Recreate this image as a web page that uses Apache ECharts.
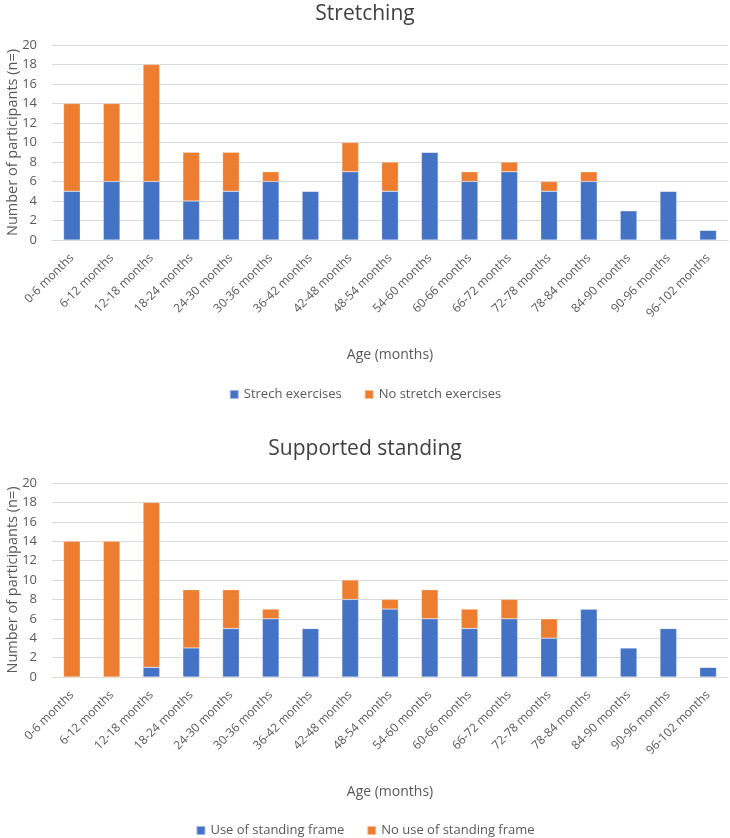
<!DOCTYPE html>
<html>
<head>
<meta charset="utf-8">
<script src="https://cdn.jsdelivr.net/npm/echarts@6/dist/echarts.min.js"></script>
<style>
  html, body { margin: 0; padding: 0; background: #fff; }
  #main { width: 730px; height: 838px; }
</style>
</head>
<body>
<div id="main"></div>
<script>
// age groups shared by both panels
var ageGroups = ['0-6 months', '6-12 months', '12-18 months', '18-24 months', '24-30 months',
  '30-36 months', '36-42 months', '42-48 months', '48-54 months', '54-60 months', '60-66 months',
  '66-72 months', '72-78 months', '78-84 months', '84-90 months', '90-96 months', '96-102 months'];

// Stretching
var stretchYes = [5, 6, 6, 4, 5, 6, 5, 7, 5, 9, 6, 7, 5, 6, 3, 5, 1];
var stretchNo  = [9, 8, 12, 5, 4, 1, 0, 3, 3, 0, 1, 1, 1, 1, 0, 0, 0];

// Supported standing
var frameYes = [0, 0, 1, 3, 5, 6, 5, 8, 7, 6, 5, 6, 4, 7, 3, 5, 1];
var frameNo  = [14, 14, 17, 6, 4, 1, 0, 2, 1, 3, 2, 2, 2, 0, 0, 0, 0];

var BLUE = '#4472C4', ORANGE = '#ED7D31';
var FONT = 'Open Sans';
var textGrey = '#595959';

var chart = echarts.init(document.getElementById('main'));

function xAx(idx) {
  return {
    type: 'category', gridIndex: idx, data: ageGroups,
    name: 'Age (months)', nameLocation: 'middle', nameGap: 108, nameMoveOverlap: false,
    nameTextStyle: { fontFamily: FONT, fontSize: 14, color: textGrey },
    axisLine: { lineStyle: { color: '#D9D9D9' } },
    axisTick: { show: false },
    axisLabel: { rotate: 45, interval: 0, fontFamily: FONT, fontSize: 12, color: textGrey, margin: 16 }
  };
}
function yAx(idx) {
  return {
    type: 'value', gridIndex: idx, min: 0, max: 20, interval: 2,
    name: 'Number of participants (n=)', nameLocation: 'middle', nameGap: 32, nameMoveOverlap: false,
    nameTextStyle: { fontFamily: FONT, fontSize: 14.5, color: textGrey },
    axisLine: { show: false }, axisTick: { show: false },
    axisLabel: { fontFamily: FONT, fontSize: 13, color: textGrey, margin: 15 },
    splitLine: { lineStyle: { color: '#D9D9D9' } }
  };
}
function bar(name, data, color, idx) {
  return {
    name: name, type: 'bar', stack: 's' + idx, data: data,
    xAxisIndex: idx, yAxisIndex: idx, barWidth: '42%',
    itemStyle: { color: color, borderColor: 'rgba(255,255,255,0.5)', borderWidth: 0.5 }
  };
}

chart.setOption({
  animation: false,
  title: [
    { text: 'Stretching', left: 'center', top: -1,
      textStyle: { fontFamily: FONT, fontSize: 21, fontWeight: 'normal', color: '#404040' } },
    { text: 'Supported standing', left: 'center', top: 434,
      textStyle: { fontFamily: FONT, fontSize: 21, fontWeight: 'normal', color: '#404040' } }
  ],
  legend: [
    { data: ['Strech exercises', 'No stretch exercises'], left: 'center', top: 383,
      itemWidth: 9, itemHeight: 9, itemGap: 22, icon: 'rect',
      textStyle: { fontFamily: FONT, fontSize: 13, color: textGrey } },
    { data: ['Use of standing frame', 'No use of standing frame'], left: 'center', top: 819,
      itemWidth: 9, itemHeight: 9, itemGap: 22, icon: 'rect',
      textStyle: { fontFamily: FONT, fontSize: 13, color: textGrey } }
  ],
  grid: [
    { left: 52, right: 2, top: 45, height: 195, outerBoundsMode: 'none', containLabel: false },
    { left: 52, right: 2, top: 483, height: 194, outerBoundsMode: 'none', containLabel: false }
  ],
  xAxis: [xAx(0), xAx(1)],
  yAxis: [yAx(0), yAx(1)],
  series: [
    bar('Strech exercises', stretchYes, BLUE, 0),
    bar('No stretch exercises', stretchNo, ORANGE, 0),
    bar('Use of standing frame', frameYes, BLUE, 1),
    bar('No use of standing frame', frameNo, ORANGE, 1)
  ]
});
</script>
</body>
</html>
